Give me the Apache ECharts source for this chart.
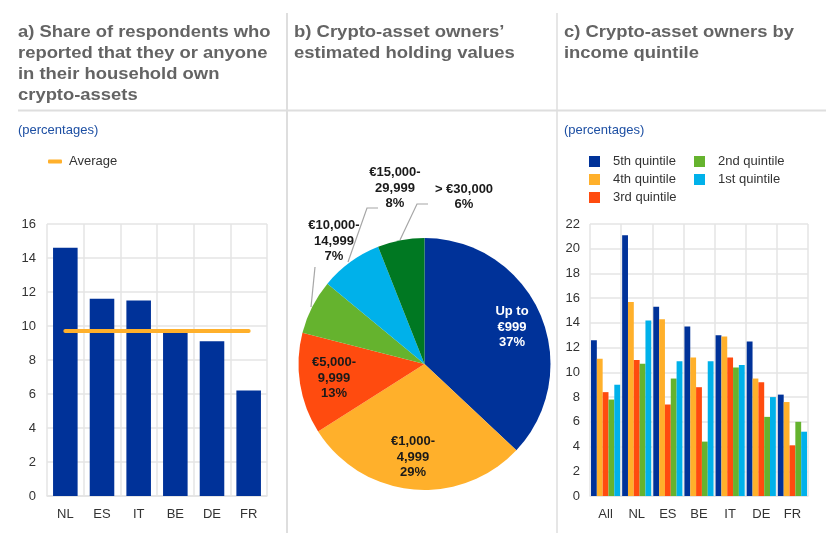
<!DOCTYPE html>
<html>
<head>
<meta charset="utf-8">
<style>html,body{margin:0;padding:0;background:#fff}#chart-container{width:826px;height:536px}</style>
<script src="https://cdn.jsdelivr.net/npm/echarts@6/dist/echarts.min.js"></script>
</head>
<body>
<div id="chart-container"></div>
<script>
const FONT = 'Liberation Sans, Arial, sans-serif';
const NAVY = '#003299', AMBER = '#ffb02b', RED = '#ff4b0f', GREEN = '#65b32e', SKY = '#00b1ea', DARKGREEN = '#007822';

// panel a
const countriesA = ['NL', 'ES', 'IT', 'BE', 'DE', 'FR'];
const ownership = [14.6, 11.6, 11.5, 9.7, 9.1, 6.2];
const average = [9.7, 9.7, 9.7, 9.7, 9.7, 9.7];

// panel b
const holdingLabels = ['Up to\n€999\n37%', '€1,000-\n4,999\n29%', '€5,000-\n9,999\n13%', '€10,000-\n14,999\n7%', '€15,000-\n29,999\n8%', '> €30,000\n6%'];
const holdingValues = [37, 29, 13, 7, 8, 6];
const holdingColors = [NAVY, AMBER, RED, GREEN, SKY, DARKGREEN];

// panel c
const countriesC = ['All', 'NL', 'ES', 'BE', 'IT', 'DE', 'FR'];
const quintile5 = [12.6, 21.1, 15.3, 13.7, 13.0, 12.5, 8.2];
const quintile4 = [11.1, 15.7, 14.3, 11.2, 12.9, 9.5, 7.6];
const quintile3 = [8.4, 11.0, 7.4, 8.8, 11.2, 9.2, 4.1];
const quintile2 = [7.8, 10.7, 9.5, 4.4, 10.4, 6.4, 6.0];
const quintile1 = [9.0, 14.2, 10.9, 10.9, 10.6, 8.0, 5.2];

// label box centres for the pie, and the leader lines of the three small slices
const pieLabelPos = [
  { x: 512, y: 327 },
  { x: 413, y: 457 },
  { x: 334, y: 378 },
  { x: 334, y: 241 },
  { x: 395, y: 188 },
  { x: 464, y: 197 },
];
const pieLeaders = {
  3: [[315, 267], [311, 307]],
  4: [[378, 208], [367, 208], [348, 262]],
  5: [[428, 204], [417, 204], [400, 240]],
};

const dom = document.getElementById('chart-container');
const myChart = echarts.init(dom, null, { renderer: 'canvas' });

const axisText = { color: '#333', fontFamily: FONT, fontSize: 13 };
const gridLine = { show: true, lineStyle: { color: '#e4e4e4', width: 1.5 } };

const catAxis = (gridIndex, data) => ({
  type: 'category',
  gridIndex,
  data,
  axisTick: { show: false },
  axisLine: { lineStyle: { color: '#e4e4e4', width: 1.5 } },
  axisLabel: { ...axisText, margin: 12 },
  splitLine: gridLine,
});
const valAxis = (gridIndex, max, margin) => ({
  type: 'value',
  gridIndex,
  min: 0,
  max,
  interval: 2,
  axisLine: { show: false },
  axisTick: { show: false },
  axisLabel: { ...axisText, margin },
  splitLine: gridLine,
});
const quintileBar = (name, data, color) => ({
  type: 'bar',
  name,
  xAxisIndex: 1,
  yAxisIndex: 1,
  data,
  barWidth: '18.7%',
  barGap: '0%',
  itemStyle: { color },
});

// the original headings run wide, so they are stretched a little
const headline = (text, x, scaleX) => ({
  type: 'text',
  x,
  y: 22,
  scaleX,
  style: { text, fill: '#646464', font: 'bold 16px ' + FONT, lineHeight: 21 },
});
const unit = (x) => ({
  type: 'text',
  left: x,
  top: 124,
  style: { text: '(percentages)', fill: '#1d4fa3', font: '13px ' + FONT },
});
const rule = (x1, y1, x2, y2, lineWidth) => ({
  type: 'line',
  shape: { x1, y1, x2, y2 },
  style: { stroke: '#dedede', lineWidth },
});
const swatchLegend = (left, data) => ({
  left,
  top: 150,
  orient: 'vertical',
  itemWidth: 11,
  itemHeight: 11,
  itemGap: 5,
  icon: 'rect',
  textStyle: { ...axisText, padding: [0, 0, 0, 8] },
  data,
});

const option = {
  animation: false,
  backgroundColor: '#fff',
  graphic: [
    rule(18, 110.5, 826, 110.5, 2),
    rule(287, 13, 287, 533, 2),
    rule(557, 13, 557, 533, 1.5),
    headline('a) Share of respondents who\nreported that they or anyone\nin their household own\ncrypto-assets', 18, 1.15),
    headline('b) Crypto-asset owners’\nestimated holding values', 294, 1.155),
    headline('c) Crypto-asset owners by\nincome quintile', 564, 1.15),
    unit(18),
    unit(564),
  ],
  legend: [
    {
      left: 43,
      top: 150,
      itemWidth: 14,
      itemHeight: 4,
      textStyle: { ...axisText, padding: [0, 0, 0, 2] },
      data: [{ name: 'Average', icon: 'roundRect' }],
    },
    swatchLegend(584, ['5th quintile', '4th quintile', '3rd quintile']),
    swatchLegend(689, ['2nd quintile', '1st quintile']),
  ],
  grid: [
    { left: 47, top: 224, width: 220, height: 272 },
    { left: 590, top: 224, width: 218, height: 272 },
  ],
  xAxis: [catAxis(0, countriesA), catAxis(1, countriesC)],
  yAxis: [valAxis(0, 16, 11), valAxis(1, 22, 10)],
  series: [
    {
      type: 'bar',
      name: 'Share',
      xAxisIndex: 0,
      yAxisIndex: 0,
      data: ownership,
      barWidth: '67%',
      itemStyle: { color: NAVY },
    },
    {
      type: 'line',
      name: 'Average',
      xAxisIndex: 0,
      yAxisIndex: 0,
      data: average,
      symbol: 'none',
      lineStyle: { color: AMBER, width: 4, cap: 'round' },
      itemStyle: { color: AMBER },
    },
    quintileBar('5th quintile', quintile5, NAVY),
    quintileBar('4th quintile', quintile4, AMBER),
    quintileBar('3rd quintile', quintile3, RED),
    quintileBar('2nd quintile', quintile2, GREEN),
    quintileBar('1st quintile', quintile1, SKY),
    {
      type: 'pie',
      center: [424.5, 364],
      radius: [0, 126],
      startAngle: 90,
      clockwise: true,
      data: holdingValues.map((value, i) => ({
        value,
        name: holdingLabels[i],
        itemStyle: { color: holdingColors[i] },
        label: { color: i === 0 ? '#fff' : '#1a1a1a' },
      })),
      label: {
        show: true,
        position: 'inside',
        formatter: '{b}',
        fontFamily: FONT,
        fontSize: 13,
        fontWeight: 'bold',
        lineHeight: 15.3,
        align: 'center',
        verticalAlign: 'middle',
      },
      labelLine: { show: false },
      labelLayout: (params) => ({
        x: pieLabelPos[params.dataIndex].x,
        y: pieLabelPos[params.dataIndex].y,
        align: 'center',
        verticalAlign: 'middle',
      }),
    },
    {
      // leader lines for the small slices
      type: 'custom',
      coordinateSystem: 'none',
      silent: true,
      data: [3, 4, 5],
      renderItem: (params, api) => ({
        type: 'polyline',
        shape: { points: pieLeaders[api.value(0)] },
        style: { stroke: '#a6a6a6', lineWidth: 1.2, fill: null },
      }),
    },
  ],
};

myChart.setOption(option);
window.addEventListener('resize', myChart.resize);
</script>
</body>
</html>
